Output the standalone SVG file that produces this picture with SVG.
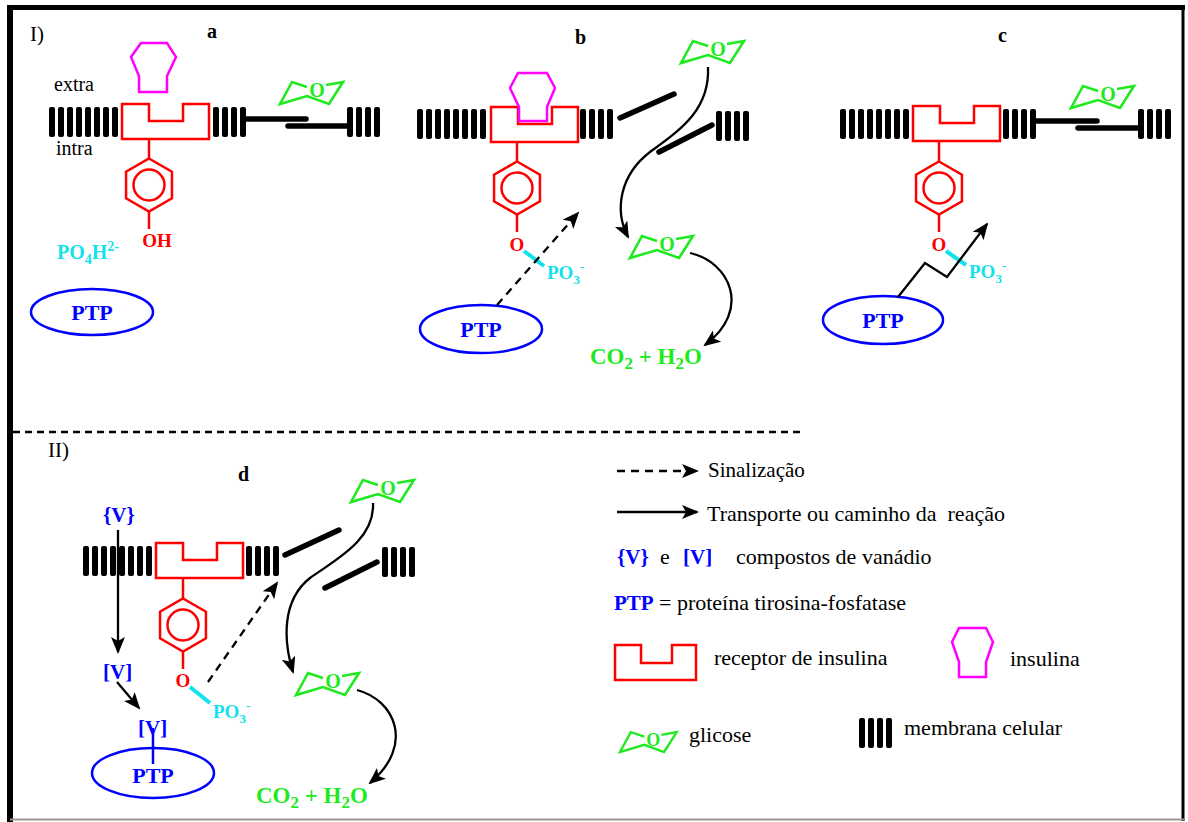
<svg xmlns="http://www.w3.org/2000/svg" xmlns:xlink="http://www.w3.org/1999/xlink" width="1188" height="822" viewBox="0 0 1188 822">
  <style>
    .serif { font-family: 'Liberation Serif', 'Times New Roman', serif; }
    .lbl { font-family: 'Liberation Serif', 'Times New Roman', serif; fill: #000; }
    .bold { font-weight: bold; }
    .red { fill: #ff0000; }
    .cyan { fill: #12e2ee; }
    .blue { fill: #0000ff; }
    .green { fill: #1eea1e; }
    .rec { fill: none; stroke: #ff0000; stroke-width: 2.5; stroke-linejoin: miter; }
    .ins { fill: none; stroke: #ff00ff; stroke-width: 2.5; }
    .ptp { fill: none; stroke: #0000ff; stroke-width: 2.5; }
    .bond { stroke: #12e2ee; stroke-width: 4; }
    .chan { stroke: #000; stroke-width: 5.5; stroke-linecap: round; }
    .arr { fill: none; stroke: #000; stroke-width: 2.3; marker-end: url(#head); }
    .dash { fill: none; stroke: #000; stroke-width: 2.3; stroke-dasharray: 8 6; marker-end: url(#head); }
  </style>
  <defs>
    <marker id="head" markerUnits="userSpaceOnUse" markerWidth="18" markerHeight="14" refX="15" refY="7" orient="auto">
      <path d="M0,0 L17,7 L0,14 L4,7 Z" fill="#000"/>
    </marker>
    <!-- membrane segments -->
    <g id="m4" fill="#000">
      <rect x="0" y="0" width="6" height="30" rx="2"/>
      <rect x="9" y="0" width="6" height="30" rx="2"/>
      <rect x="18" y="0" width="6" height="30" rx="2"/>
      <rect x="27" y="0" width="6" height="30" rx="2"/>
    </g>
    <g id="m8">
      <use xlink:href="#m4"/>
      <use xlink:href="#m4" x="36"/>
    </g>
    <!-- insulin receptor outline -->
    <path id="receptor" class="rec" d="M0,0 H27 V17 H61 V0 H87 V35 H0 Z"/>
    <!-- tyrosine ring with stems, centred on the ring -->
    <g id="tyr" fill="none" stroke="#ff0000" stroke-width="2.5">
      <line x1="0" y1="-46" x2="0" y2="-26.5"/>
      <polygon points="0,-26.5 22.95,-13.25 22.95,13.25 0,26.5 -22.95,13.25 -22.95,-13.25"/>
      <circle cx="0" cy="0" r="15.5"/>
      <line x1="0" y1="26.5" x2="0" y2="44"/>
    </g>
    <!-- glucose chair -->
    <g id="glc">
      <path d="M27,-17 L12,-22 L0,0 L27,-8 L49,0 L63,-22 L46,-19" fill="none" stroke="#1eea1e" stroke-width="2.6" stroke-linejoin="miter"/>
      <text x="37" y="-7" text-anchor="middle" class="serif bold green" font-size="20">O</text>
    </g>
  </defs>

  <!-- outer frame -->
  <g id="frame">
    <line x1="10" y1="5" x2="10" y2="822" stroke="#000" stroke-width="6"/>
    <line x1="7" y1="7.5" x2="1185" y2="7.5" stroke="#000" stroke-width="5"/>
    <line x1="1183" y1="5" x2="1183" y2="821" stroke="#000" stroke-width="3"/>
    <line x1="10" y1="819.5" x2="1184" y2="819.5" stroke="#999" stroke-width="2"/>
    <line x1="13" y1="432" x2="805" y2="432" stroke="#000" stroke-width="2.5" stroke-dasharray="7 5"/>
  </g>

  <!-- section labels -->
  <g id="labels">
    <text x="30" y="41" class="lbl" font-size="21">I)</text>
    <text x="48" y="457" class="lbl" font-size="21">II)</text>
    <text x="207" y="38" class="lbl bold" font-size="20">a</text>
    <text x="575" y="44" class="lbl bold" font-size="20">b</text>
    <text x="998" y="42" class="lbl bold" font-size="20">c</text>
    <text x="238" y="481" class="lbl bold" font-size="20">d</text>
    <text x="54" y="91" class="lbl" font-size="20">extra</text>
    <text x="56" y="155" class="lbl" font-size="20">intra</text>
  </g>

  <!-- panel a: resting receptor -->
  <g id="panel-a">
    <use xlink:href="#m8" x="49" y="107"/>
    <use xlink:href="#m4" x="213" y="107"/>
    <use xlink:href="#m4" x="347" y="107"/>
    <line class="chan" x1="247" y1="119" x2="306" y2="119"/>
    <line class="chan" x1="288" y1="126" x2="347" y2="126"/>
    <use xlink:href="#glc" x="280" y="104"/>
    <polygon class="ins" points="141,43 167,43 176,57 167,76 167,92 139,92 139,76 131,57"/>
    <use xlink:href="#receptor" x="122" y="104"/>
    <use xlink:href="#tyr" x="149" y="185"/>
    <text x="157" y="247" text-anchor="middle" class="serif bold red" font-size="19">OH</text>
    <text x="57" y="259" class="serif bold cyan" font-size="20">PO<tspan font-size="14" dy="5">4</tspan><tspan dy="-5">H</tspan><tspan font-size="14" dy="-8">2-</tspan></text>
  </g>
  <g id="ptp-a">
    <ellipse class="ptp" cx="92" cy="312" rx="61" ry="23"/>
    <text x="92" y="320" text-anchor="middle" class="serif bold blue" font-size="22">PTP</text>
  </g>

  <!-- panel b: insulin bound, channel open -->
  <g id="panel-b">
    <use xlink:href="#m8" x="417" y="109"/>
    <use xlink:href="#m4" x="580" y="109"/>
    <use xlink:href="#m4" x="716" y="111"/>
    <line class="chan" x1="620" y1="118" x2="674" y2="94"/>
    <line class="chan" x1="659" y1="152" x2="712" y2="125"/>
    <use xlink:href="#receptor" x="491" y="107"/>
    <polygon class="ins" points="518,73 547,73 555,88 547,107 547,121 519,121 519,107 510,88"/>
    <use xlink:href="#tyr" x="517" y="188"/>
    <text x="517" y="251" text-anchor="middle" class="serif bold red" font-size="19">O</text>
    <line class="bond" x1="524" y1="251" x2="544" y2="266"/>
    <text x="547" y="279" class="serif bold cyan" font-size="19">PO<tspan font-size="13" dy="5">3</tspan><tspan font-size="13" dy="-13">-</tspan></text>
    <use xlink:href="#glc" x="681" y="63"/>
    <use xlink:href="#glc" x="630" y="258"/>
    <text x="590" y="364" class="serif bold green" font-size="23">CO<tspan font-size="17" dy="5">2</tspan><tspan dy="-5"> + H</tspan><tspan font-size="17" dy="5">2</tspan><tspan dy="-5">O</tspan></text>
  </g>
  <g id="ptp-b">
    <ellipse class="ptp" cx="481" cy="329" rx="61" ry="24"/>
    <text x="481" y="337" text-anchor="middle" class="serif bold blue" font-size="22">PTP</text>
  </g>

  <!-- panel c: dephosphorylation by PTP -->
  <g id="panel-c">
    <use xlink:href="#m8" x="840" y="109"/>
    <use xlink:href="#m4" x="1003" y="109"/>
    <use xlink:href="#m4" x="1138" y="109"/>
    <line class="chan" x1="1037" y1="121" x2="1097" y2="121"/>
    <line class="chan" x1="1078" y1="128" x2="1138" y2="128"/>
    <use xlink:href="#glc" x="1071" y="108"/>
    <use xlink:href="#receptor" x="913" y="106"/>
    <use xlink:href="#tyr" x="939" y="188"/>
    <text x="939" y="251" text-anchor="middle" class="serif bold red" font-size="19">O</text>
    <line class="bond" x1="946" y1="251" x2="966" y2="265"/>
    <text x="969" y="278" class="serif bold cyan" font-size="19">PO<tspan font-size="13" dy="5">3</tspan><tspan font-size="13" dy="-13">-</tspan></text>
  </g>
  <g id="ptp-c">
    <ellipse class="ptp" cx="883" cy="320" rx="60" ry="24"/>
    <text x="883" y="328" text-anchor="middle" class="serif bold blue" font-size="22">PTP</text>
  </g>

  <!-- panel d: vanadium inhibiting PTP -->
  <g id="panel-d">
    <use xlink:href="#m8" x="83" y="546"/>
    <use xlink:href="#m4" x="246" y="546"/>
    <use xlink:href="#m4" x="382" y="547"/>
    <line class="chan" x1="285" y1="555" x2="339" y2="530"/>
    <line class="chan" x1="325" y1="588" x2="377" y2="562"/>
    <use xlink:href="#receptor" x="156" y="543"/>
    <use xlink:href="#tyr" x="183" y="625"/>
    <text x="183" y="687" text-anchor="middle" class="serif bold red" font-size="19">O</text>
    <line class="bond" x1="190" y1="687" x2="210" y2="703"/>
    <text x="213" y="718" class="serif bold cyan" font-size="19">PO<tspan font-size="13" dy="5">3</tspan><tspan font-size="13" dy="-13">-</tspan></text>
    <use xlink:href="#glc" x="351" y="502"/>
    <use xlink:href="#glc" x="296" y="695"/>
    <text x="256" y="803" class="serif bold green" font-size="23">CO<tspan font-size="17" dy="5">2</tspan><tspan dy="-5"> + H</tspan><tspan font-size="17" dy="5">2</tspan><tspan dy="-5">O</tspan></text>
    <text x="103" y="522" class="serif bold blue" font-size="21">{V}</text>
    <text x="103" y="679" class="serif bold blue" font-size="21">[V]</text>
    <text x="138" y="735" class="serif bold blue" font-size="21">[V]</text>
    <line x1="153" y1="728" x2="153" y2="764" stroke="#0000ff" stroke-width="2.5"/>
  </g>
  <g id="ptp-d">
    <ellipse class="ptp" cx="153" cy="773" rx="61" ry="25"/>
    <text x="153" y="783" text-anchor="middle" class="serif bold blue" font-size="22">PTP</text>
  </g>

  <!-- connectors -->
  <g id="connectors">
    <!-- panel b -->
    <line class="dash" x1="497" y1="305" x2="578" y2="213"/>
    <path class="arr" d="M708,67 C710,110 680,130 650,152 C620,175 614,210 628,237"/>
    <path class="arr" d="M690,253 C730,262 752,310 705,345"/>
    <!-- panel c -->
    <polyline class="arr" points="898,297 925,263 947,277 987,224"/>
    <!-- panel d -->
    <line class="arr" x1="118" y1="530" x2="118" y2="652"/>
    <line class="arr" x1="117" y1="682" x2="139" y2="708"/>
    <line class="dash" x1="208" y1="682" x2="277" y2="583"/>
    <path class="arr" d="M373,503 C375,540 335,560 310,578 C282,600 283,640 293,672"/>
    <path class="arr" d="M357,690 C395,700 415,745 370,783"/>
  </g>

  <!-- key -->
  <g id="legend">
    <line class="dash" x1="617" y1="471" x2="697" y2="471"/>
    <text x="708" y="477" class="lbl" font-size="21">Sinalização</text>
    <line class="arr" x1="617" y1="512" x2="697" y2="512"/>
    <text x="707" y="521" class="lbl" font-size="22" xml:space="preserve">Transporte ou caminho da  reação</text>
    <text x="617" y="564" class="serif bold blue" font-size="21">{V}</text>
    <text x="660" y="564" class="lbl" font-size="22">e</text>
    <text x="683" y="564" class="serif bold blue" font-size="21">[V]</text>
    <text x="736" y="564" class="lbl" font-size="22">compostos de vanádio</text>
    <text x="614" y="610" class="serif bold blue" font-size="21">PTP</text>
    <text x="659" y="610" class="lbl" font-size="22">= proteína tirosina-fosfatase</text>
    <path class="rec" d="M615,645 H641 V663 H672 V645 H696 V680 H615 Z"/>
    <text x="714" y="665" class="lbl" font-size="22">receptor de insulina</text>
    <polygon class="ins" points="959,628 986,628 993,642 986,662 986,677 959,677 959,662 952,642"/>
    <text x="1010" y="666" class="lbl" font-size="22">insulina</text>
    <use xlink:href="#glc" transform="translate(620,752) scale(0.9)"/>
    <text x="689" y="742" class="lbl" font-size="22">glicose</text>
    <use xlink:href="#m4" x="859" y="718"/>
    <text x="904" y="735" class="lbl" font-size="22">membrana celular</text>
  </g>
</svg>
